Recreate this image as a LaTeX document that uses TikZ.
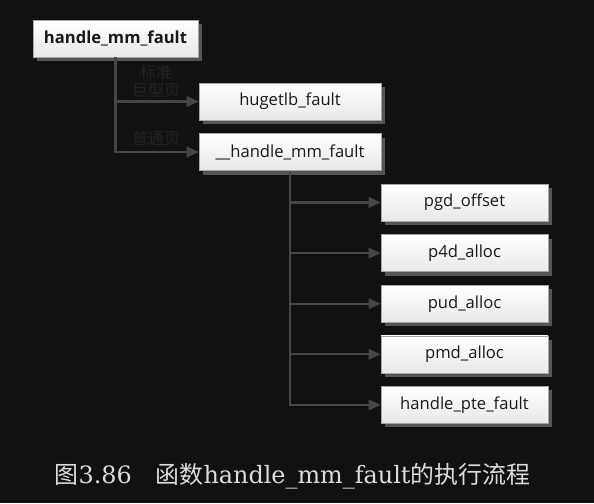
\documentclass[tikz,border=0pt]{standalone}
\usepackage{fontspec}
\setsansfont{Open Sans}
\newfontfamily\cjk{Noto Sans CJK SC}
\newfontfamily\capfont{DejaVu Serif}
\usetikzlibrary{positioning}
\usetikzlibrary{shadows}
\usetikzlibrary{arrows.meta}
\definecolor{bg}{RGB}{17,17,17}
\definecolor{ln}{RGB}{70,70,70}
\definecolor{shd}{RGB}{85,85,85}
\definecolor{lbl}{RGB}{36,36,36}
\definecolor{cap}{RGB}{220,220,220}
\tikzset{>={Triangle[length=3mm,width=2.6mm]}}
\tikzset{fbox/.style={draw=gray!70, top color=white, bottom color=gray!18, minimum height=9.25mm, inner sep=0pt, font=\sffamily\fontsize{11.8}{13}\selectfont, text=black!90, drop shadow={shadow xshift=1mm, shadow yshift=-1mm, fill=shd, opacity=1}}}
\tikzset{conn/.style={ln, line width=1.6pt}}
\tikzset{lab/.style={lbl, font=\cjk\fontsize{11.5}{13}\selectfont, inner sep=0pt}}

\begin{document}
\begin{tikzpicture}[on grid]
    \fill[bg] (0,0) rectangle (14.85,-12.575);

    \node[fbox, minimum width=4.125cm, font=\sffamily\bfseries\fontsize{11.8}{13}\selectfont] (hmf) at (2.8875,-0.9625) {handle\_mm\_fault};
    \node[fbox, minimum width=4.55cm] (huge) at (7.25,-2.5375) {hugetlb\_fault};
    \node[fbox, minimum width=4.55cm, below=1.2625 of huge] (hhmf) {\_\_handle\_mm\_fault};

    \node[fbox, minimum width=4.175cm] (pgd) at (11.6125,-5.0625) {pgd\_offset};
    \node[fbox, minimum width=4.175cm, below=1.265 of pgd] (p4d) {p4d\_alloc};
    \node[fbox, minimum width=4.175cm, below=1.265 of p4d] (pud) {pud\_alloc};
    \node[fbox, minimum width=4.175cm, below=1.265 of pud] (pmd) {pmd\_alloc};
    \node[fbox, minimum width=4.175cm, below=1.265 of pmd] (hpte) {handle\_pte\_fault};

    \node[lab] (std) at (3.9,-1.8) {标准};
    \node[lab] (hugepg) at (3.9,-2.25) {巨型页};
    \node[lab] (normpg) at (3.9,-3.45) {普通页};

    \draw[conn,->] (hmf.south) |- (huge.west);
    \draw[conn,->] (hmf.south) |- (hhmf.west);

    \foreach \n in {pgd,p4d,pud,pmd,hpte}
        \draw[conn,->] (hhmf.south) |- (\n.west);

    \node[text=cap, font=\capfont\fontsize{17}{20}\selectfont] (caption) at (7.31,-11.9) {{\cjk 图}3.86\hspace{1em}{\cjk 函数}handle\_mm\_fault{\cjk 的执行流程}};
\end{tikzpicture}
\end{document}
